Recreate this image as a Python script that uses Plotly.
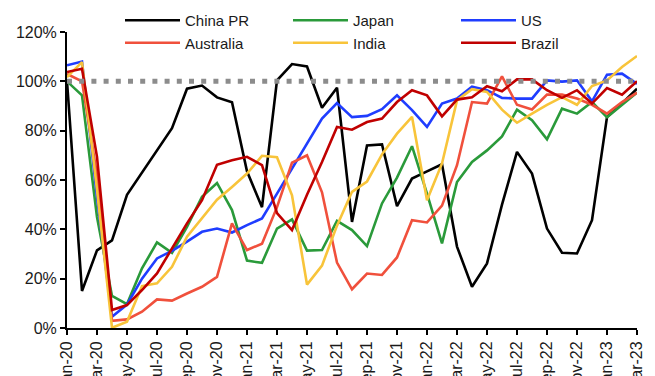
import plotly.graph_objects as go

# Monthly observations, Jan-20 .. Mar-23 (share of pre-pandemic level, %)
months = [f"{m}-{y}" for y in ("20", "21", "22", "23")
          for m in ("Jan", "Feb", "Mar", "Apr", "May", "Jun",
                    "Jul", "Aug", "Sep", "Oct", "Nov", "Dec")][:39]

china = [100, 15, 31.5, 35.5, 54, 63, 72, 81, 97, 98.3, 93.5, 91.5, 63.5, 49,
         100.4, 107, 106, 89.3, 97.4, 43, 74, 74.4, 49.4, 60.6, 63.5, 66.4, 33,
         16.7, 26.2, 50, 71.4, 62.6, 40.3, 30.5, 30.2, 43.7, 85.5, 91, 97]
japan = [100, 94.3, 45, 13, 9.7, 24.2, 34.7, 30.5, 41, 53.2, 58.8, 47.8, 27.3,
         26.4, 40.3, 44, 31.4, 31.6, 43.4, 39.7, 33.2, 50.5, 61, 73.7, 54.5,
         34.3, 59.2, 67.3, 72, 77.7, 88.5, 84.2, 76.5, 88.9, 86.9, 91.6, 85.4,
         90.3, 95.4]
us = [106.5, 108, 53, 4.6, 9.5, 20, 28.2, 31.3, 35, 39, 40.3, 38.7, 41.7, 44.4,
      54.5, 64.5, 74.8, 84.9, 91.2, 85.5, 86, 88.7, 94.3, 88.3, 81.5, 91, 93,
      97.8, 96.4, 93.3, 93, 93, 100.4, 99.9, 100.4, 91.9, 102.7, 103.1, 99]
australia = [103, 100, 62, 2.9, 3.5, 6.6, 11.6, 11.1, 14, 16.7, 20.7, 42.4,
             31.6, 34.2, 49, 67, 70, 55, 26.5, 15.7, 22.1, 21.5, 28.6, 43.7,
             42.8, 49.6, 66, 91.6, 91, 102, 90.5, 88.6, 94.6, 94.6, 93, 90.5,
             86.9, 91.6, 95.4]
india = [101.7, 107.8, 56, 0.1, 2.5, 17, 18.1, 24.8, 37, 44.4, 52, 57.2, 62.6,
         69.8, 69.2, 53.8, 17.6, 25.3, 41.5, 55.2, 59.4, 70.4, 78.8, 85.6, 51.8,
         66.7, 92.3, 96.8, 95.7, 88.5, 83.2, 86.9, 90.5, 93.6, 90.5, 98.1,
         100.4, 105.8, 110.3]
brazil = [103.8, 105.1, 69.4, 7.3, 9.3, 15.4, 22.1, 32.3, 42.4, 51.8, 66.2, 68,
          69.4, 66, 46.6, 39.7, 54, 67.3, 81.5, 80.4, 83.5, 84.9, 91.6, 96.4,
          94.3, 85.8, 92.6, 93.5, 98, 96, 100.8, 100.8, 96.4, 93.3, 96.4, 91,
          97.3, 94.6, 100]
baseline = [100] * len(months)

series = [
    ("China PR", china, "#000000"),
    ("Japan", japan, "#2a9a3a"),
    ("US", us, "#1f3dff"),
    ("Australia", australia, "#f0503c"),
    ("India", india, "#f8c43a"),
    ("Brazil", brazil, "#c00000"),
]

fig = go.Figure()
for name, vals, color in series:
    fig.add_trace(go.Scatter(
        x=months, y=[v / 100 for v in vals], name=name, mode="lines",
        line=dict(color=color, width=2.6),
    ))

# pre-pandemic level reference
fig.add_trace(go.Scatter(
    x=months, y=[v / 100 for v in baseline], mode="lines", showlegend=False,
    line=dict(color="#8c8c8c", width=5, dash="5px,7.2px"), hoverinfo="skip",
))

font = "Liberation Sans, Arial, sans-serif"
fig.update_layout(
    width=655, height=376,
    margin=dict(l=66.7, r=18.3, t=31.7, b=48, autoexpand=False),
    paper_bgcolor="white", plot_bgcolor="white",
    font=dict(family=font, size=16, color="#1a1a1a"),
    showlegend=True,
    legend=dict(
        orientation="h", x=120 / 655, xref="container", xanchor="left",
        y=1 - 4 / 376, yref="container", yanchor="top",
        entrywidth=98, entrywidthmode="pixels", itemwidth=55,
        font=dict(size=15, color="#1a1a1a"), bgcolor="rgba(0,0,0,0)",
        tracegroupgap=0,
    ),
    xaxis=dict(
        type="category", range=[0, len(months) - 1],
        tickvals=months[::2], ticktext=months[::2], tickangle=-90,
        showgrid=False, zeroline=False, showline=True, linecolor="#000",
        linewidth=2, ticks="outside", ticklen=5, tickwidth=2, tickcolor="#000",
        automargin=False, tickfont=dict(size=16),
    ),
    yaxis=dict(
        range=[0, 1.2], dtick=0.2, tickformat=".0%",
        showgrid=False, zeroline=False, showline=True, linecolor="#000",
        linewidth=2, ticks="outside", ticklen=5, tickwidth=2, tickcolor="#000",
        automargin=False, tickfont=dict(size=16),
    ),
)

fig.write_html("out.html")
